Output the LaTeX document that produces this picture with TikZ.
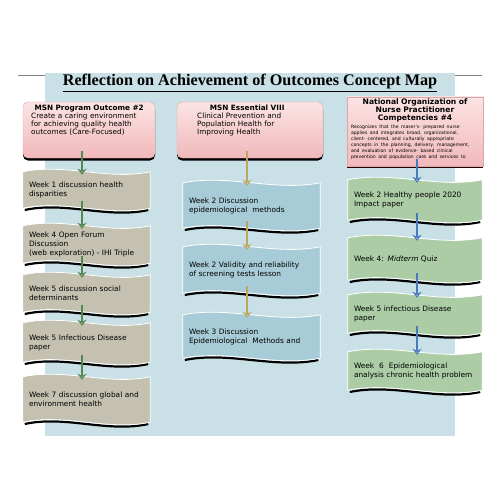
\documentclass[tikz,border=0pt]{standalone}
\usepackage{fontspec}
\setmainfont{DejaVu Sans}
\newfontfamily\titlefont{Liberation Serif}
\usetikzlibrary{arrows.meta}
\usetikzlibrary{calc}
\usetikzlibrary{shadows}
\usetikzlibrary{backgrounds}

\definecolor{PanelBlue}{RGB}{201,224,230}
\definecolor{WaveTan}{RGB}{196,193,176}
\definecolor{WaveBlue}{RGB}{168,204,215}
\definecolor{WaveGreen}{RGB}{172,204,166}
\definecolor{PinkTop}{RGB}{252,228,228}
\definecolor{PinkBot}{RGB}{241,184,186}
\definecolor{PinkEdge}{RGB}{222,165,165}
\definecolor{ArrGreen}{RGB}{84,134,84}
\definecolor{ArrGold}{RGB}{186,166,98}
\definecolor{ArrBlue}{RGB}{72,122,190}

\begin{document}
\begin{tikzpicture}[x=1pt,y=-1pt,
  headbox/.style={rounded corners=5pt, top color=PinkTop, bottom color=PinkBot,
    draw=PinkEdge, line width=0.4pt, general shadow={fill=black, shadow yshift=-2.5pt}},
  headbox3/.style={top color=PinkTop, bottom color=PinkBot, draw=PinkEdge,
    line width=0.4pt, general shadow={fill=black!85!red, shadow yshift=-2pt}},
  headtext/.style={inner sep=0pt, font=\fontsize{7.3}{7.8}\selectfont},
  wavetext/.style={inner xsep=6pt, inner ysep=0pt, align=left,
    font=\fontsize{7.4}{9}\selectfont},
  colL/.style={wavetext, text width=115pt, minimum width=127pt},
  colM/.style={wavetext, text width=125pt, minimum width=137pt},
  colR/.style={wavetext, text width=122pt, minimum width=134pt},
  flow/.style={draw=#1, line width=1.3pt,
    -{Stealth[length=6pt, width=9pt, open, fill=#1!25]},
    shorten <=-7pt, shorten >=-3pt}]
\def\wa{9}
\useasboundingbox (0,0) rectangle (500,500);

\begin{pgfonlayer}{background}
\draw[gray, line width=0.8pt] (18,75) -- (482,75);
\fill[PanelBlue] (45,73) rectangle (455,436);
\end{pgfonlayer}

\node[font=\titlefont\bfseries\fontsize{16.2}{18}\selectfont] (title) at (250,83)
  {\underline{Reflection on Achievement of Outcomes Concept Map}};

% outcome boxes
\node[headbox, minimum width=132pt, minimum height=56pt] (h1) at (89,130) {};
\node[headtext, anchor=north west, text width=116pt] (h1t) at (31,105)
  {\centering\textbf{MSN Program Outcome \#2}\par\raggedright
   Create a caring environment\\ for achieving quality health\\ outcomes (Care-Focused)};

\node[headbox, minimum width=146pt, minimum height=56pt] (h2) at (250,130) {};
\node[headtext, anchor=north west, text width=100pt] (h2t) at (197,105)
  {\centering\textbf{MSN Essential VIII}\par\raggedright
   Clinical Prevention and\\ Population Health for\\ Improving Health};

\node[headbox3, minimum width=136pt, minimum height=69pt] (h3) at (415,131.5) {};
\node[headtext, anchor=north, text width=128pt] (h3t) at (415,99)
  {{\fontsize{7.6}{7.9}\selectfont\bfseries\centering National Organization of\\
    Nurse Practitioner\\ Competencies \#4\par}\vspace{1.5pt}
   {\fontsize{4.6}{6}\selectfont\raggedright
    Recognizes that the maser's- prepared nurse\\
    applies and integrates broad, organizational,\\
    client- centered, and culturally appropriate\\
    concepts in the planning, delivery, management,\\
    and evaluation of evidence- based clinical\\
    prevention and population care and services to\par}};

% week boxes
\node[colL, minimum height=36pt] (l1) at (86.5,190) {Week 1 discussion health\\ disparities};
\node[colL, minimum height=37pt] (l2) at (86.5,244.5) {Week 4 Open Forum\\ Discussion\\ (web exploration) - IHI Triple};
\node[colL, minimum height=37pt] (l3) at (86.5,293.5) {Week 5 discussion social\\ determinants};
\node[colL, minimum height=39pt] (l4) at (86.5,342.5) {Week 5 Infectious Disease\\ paper};
\node[colL, minimum height=45pt] (l5) at (86.5,399.5) {Week 7 discussion global and\\ environment health};

\node[colM, minimum height=45pt] (m1) at (251.5,205.5) {Week 2 Discussion\\ epidemiological\ \ methods};
\node[colM, minimum height=46pt] (m2) at (251.5,270) {Week 2 Validity and reliability\\ of screening tests lesson};
\node[colM, minimum height=43pt] (m3) at (251.5,336.5) {Week 3 Discussion\\ Epidemiological\ \ Methods and};

\node[colR, minimum height=40pt] (r1) at (415,200) {Week 2 Healthy people 2020\\ Impact paper};
\node[colR, minimum height=42pt] (r2) at (415,259) {Week 4: \textit{Midterm} Quiz};
\node[colR, minimum height=38pt] (r3) at (415,314) {Week 5 infectious Disease\\ paper};
\node[colR, minimum height=38pt] (r4) at (415,371) {Week\ \ 6\ \ Epidemiological\\ analysis chronic health problem};

% wave shapes behind the text
\begin{pgfonlayer}{background}
\foreach \n/\c in {l1/WaveTan,l2/WaveTan,l3/WaveTan,l4/WaveTan,l5/WaveTan,
                   m1/WaveBlue,m2/WaveBlue,m3/WaveBlue,
                   r1/WaveGreen,r2/WaveGreen,r3/WaveGreen,r4/WaveGreen}{
  \coordinate (nw) at (\n.north west);
  \coordinate (ne) at (\n.north east);
  \coordinate (sw) at (\n.south west);
  \coordinate (se) at (\n.south east);
  \draw[black, line width=2.2pt] ($(sw)+(2,1.8)$) .. controls ($(sw)!1/3!(se)+(0,1.8-\wa)$)
    and ($(sw)!2/3!(se)+(0,1.8+\wa)$) .. ($(se)+(-2,1.8)$);
  \filldraw[fill=\c, draw=white, line width=0.8pt]
    (nw) .. controls ($(nw)!1/3!(ne)+(0,-\wa)$) and ($(nw)!2/3!(ne)+(0,\wa)$) .. (ne)
    -- (se) .. controls ($(sw)!2/3!(se)+(0,\wa)$) and ($(sw)!1/3!(se)+(0,-\wa)$) .. (sw)
    -- cycle;
}
\end{pgfonlayer}

% connectors
\coordinate (cL) at (82,0);
\coordinate (cM) at (247,0);
\coordinate (cR) at (417,0);
\draw[flow=ArrGreen] (h1.south -| cL) -- (l1.north -| cL);
\foreach \a/\b in {l1/l2,l2/l3,l3/l4,l4/l5}
  \draw[flow=ArrGreen] (\a.south -| cL) -- (\b.north -| cL);
\draw[flow=ArrGold] (h2.south -| cM) -- (m1.north -| cM);
\foreach \a/\b in {m1/m2,m2/m3}
  \draw[flow=ArrGold] (\a.south -| cM) -- (\b.north -| cM);
\draw[flow=ArrBlue] (h3.south -| cR) -- (r1.north -| cR);
\foreach \a/\b in {r1/r2,r2/r3,r3/r4}
  \draw[flow=ArrBlue] (\a.south -| cR) -- (\b.north -| cR);

\end{tikzpicture}
\end{document}
